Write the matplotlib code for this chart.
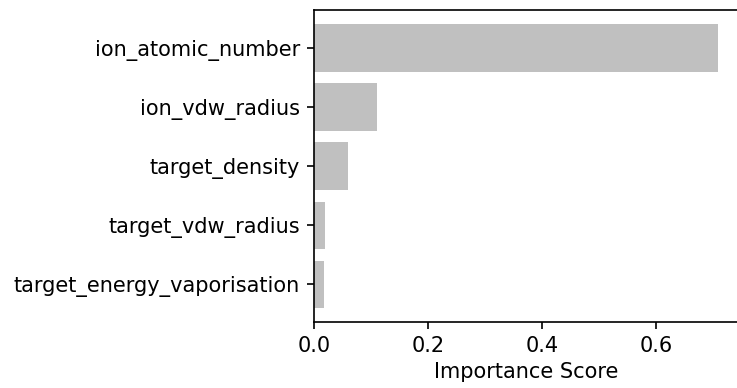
import matplotlib
matplotlib.use('Agg')
from matplotlib import pyplot

features = ['ion_atomic_number', 'ion_vdw_radius', 'target_density',
            'target_vdw_radius', 'target_energy_vaporisation']
scores = [0.709, 0.111, 0.059, 0.020, 0.017]
xticks = [0.0, 0.2, 0.4, 0.6]
title = 'Top 5 Most Important Features'


def main():
	fig = pyplot.figure(figsize=(7.37, 3.88), dpi=100)
	ax = fig.add_axes([0.426, 0.170, 0.576, 0.804])
	ax.barh(features, scores, color='silver')
	ax.invert_yaxis()
	ax.set_xticks(xticks)
	ax.set_xlabel('Importance Score', fontsize=15, labelpad=4)
	ax.tick_params(axis='both', labelsize=15, length=5.2, width=1.2, pad=5)
	for s in ax.spines.values():
		s.set_linewidth(1.2)
	ax.set_title(title, fontsize=18, pad=12)  # title sits mostly above the figure, like the source crop
	fig.savefig('out.png', dpi=100)


if __name__ == '__main__':
	main()
